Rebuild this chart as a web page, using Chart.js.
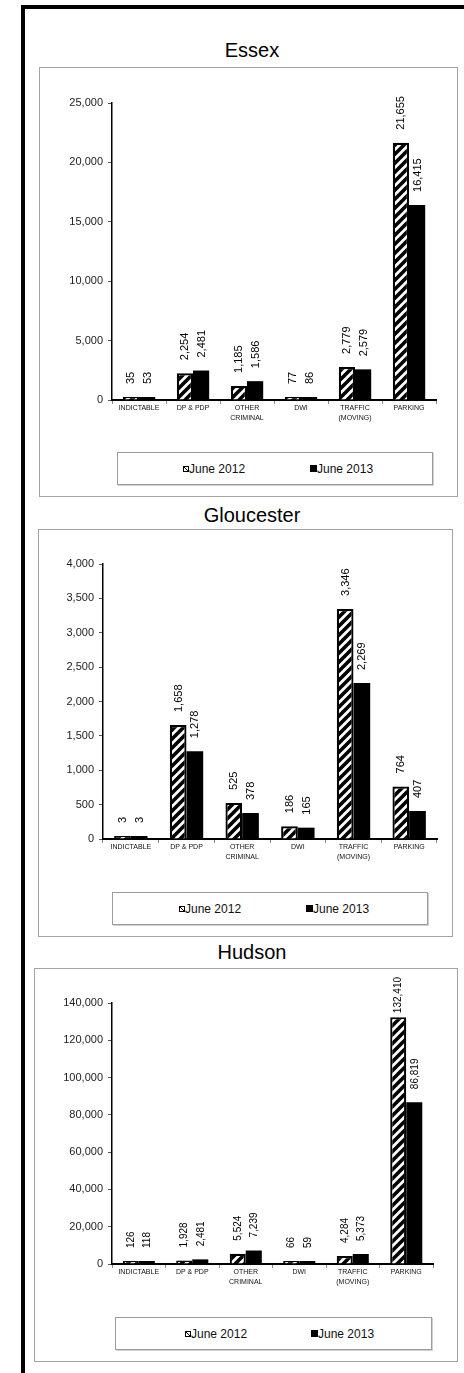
<!DOCTYPE html>
<html>
<head>
<meta charset="utf-8">
<script src="https://cdn.jsdelivr.net/npm/chart.js@4.4.1/dist/chart.umd.min.js"></script>
<style>
  html, body { margin: 0; padding: 0; background: #fff; }
  body { width: 464px; height: 1373px; position: relative; overflow: hidden;
         font-family: "Liberation Sans", Arial, sans-serif; color: #000; }
  .rule { position: absolute; background: #000; }
  .title { position: absolute; left: 152px; width: 200px; text-align: center;
           font-size: 20px; line-height: 20px; }
  .panel { position: absolute; border: 1px solid #a3a3a3; box-sizing: border-box; }
  .panel canvas { position: absolute; }
  .legend { position: absolute; border: 1px solid #9c9c9c; box-shadow: 1px 1px 0 #d0d0d0;
            box-sizing: border-box; background: #fff; }
  .legend .item { position: absolute; top: 0; height: 100%; display: flex; align-items: center;
                  font-size: 12px; line-height: 12px; color: #111; }
  .sw { width: 6px; height: 6px; box-sizing: border-box; }
  .sw.hatch { border: 1.5px solid #000;
              background: linear-gradient(45deg, #fff 40%, #000 40%, #000 60%, #fff 60%); }
  .sw.solid { background: #000; width: 7px; height: 7px; }
</style>
</head>
<body>
<div class="rule" style="left:22px; top:5px; width:442px; height:4px;"></div>
<div class="rule" style="left:21px; top:5px; width:4px; height:1368px;"></div>
<div id="root"></div>
<script>
(() => {
  const CATEGORIES = [["INDICTABLE"], ["DP & PDP"], ["OTHER", "CRIMINAL"], ["DWI"],
                      ["TRAFFIC", "(MOVING)"], ["PARKING"]];
  const SERIES = ["June 2012", "June 2013"];

  const ESSEX_2012 = [35, 2254, 1185, 77, 2779, 21655];
  const ESSEX_2013 = [53, 2481, 1586, 86, 2579, 16415];
  const GLOUCESTER_2012 = [3, 1658, 525, 186, 3346, 764];
  const GLOUCESTER_2013 = [3, 1278, 378, 165, 2269, 407];
  const HUDSON_2012 = [126, 1928, 5524, 66, 4284, 132410];
  const HUDSON_2013 = [118, 2481, 7239, 59, 5373, 86819];

  const ESSEX_Y = { max: 25000, step: 5000 };
  const GLOUCESTER_Y = { max: 4000, step: 500 };
  const HUDSON_Y = { max: 140000, step: 20000 };

  // Page layout for each county block (pixels in the 464-wide page).
  const BLOCKS = [
    { name: "Essex", a: ESSEX_2012, b: ESSEX_2013, y: ESSEX_Y, titleTop: 40,
      panel: { l: 39, t: 67, r: 458, b: 497 }, area: { l: 112, t: 103, r: 436, b: 400 },
      legend: { l: 117, t: 452, r: 433, b: 485, x1: 65, x2: 192 }, labelSize: 11, minTop: 4 },
    { name: "Gloucester", a: GLOUCESTER_2012, b: GLOUCESTER_2013, y: GLOUCESTER_Y, titleTop: 505,
      panel: { l: 38, t: 529, r: 453, b: 937 }, area: { l: 103, t: 564, r: 437, b: 839 },
      legend: { l: 112, t: 892, r: 428, b: 925, x1: 66, x2: 193 }, labelSize: 11, minTop: 4 },
    { name: "Hudson", a: HUDSON_2012, b: HUDSON_2013, y: HUDSON_Y, titleTop: 942,
      panel: { l: 34, t: 968, r: 458, b: 1362 }, area: { l: 112, t: 1003, r: 433, b: 1264 },
      legend: { l: 115, t: 1317, r: 432, b: 1350, x1: 69, x2: 195 }, labelSize: 10, minTop: 8 },
  ];

  const FONT = "'Liberation Sans', Arial, sans-serif";
  const fmt = (v) => Number(v).toLocaleString("en-US");

  // White tile with heavy "/" stripes, like the Excel wide-upward-diagonal fill.
  function hatchPattern() {
    const n = 9;
    const c = document.createElement("canvas");
    c.width = n; c.height = n;
    const g = c.getContext("2d");
    g.fillStyle = "#fff"; g.fillRect(0, 0, n, n);
    g.strokeStyle = "#000"; g.lineWidth = 3.6; g.lineCap = "square";
    g.beginPath();
    g.moveTo(0, n); g.lineTo(n, 0);
    g.moveTo(-3, 3); g.lineTo(3, -3);
    g.moveTo(n - 3, n + 3); g.lineTo(n + 3, n - 3);
    g.stroke();
    return g.createPattern(c, "repeat");
  }

  // Rotated value labels above each bar; clamped so they stay inside the panel.
  const valueLabels = {
    id: "valueLabels",
    afterDatasetsDraw(c, args, opts) {
      const ctx = c.ctx;
      ctx.save();
      ctx.font = `${opts.size}px ${FONT}`;
      ctx.fillStyle = "#000";
      ctx.textAlign = "left";
      ctx.textBaseline = "middle";
      c.data.datasets.forEach((ds, di) => {
        c.getDatasetMeta(di).data.forEach((bar, i) => {
          const txt = fmt(ds.data[i]);
          const w = ctx.measureText(txt).width;
          const start = Math.max(bar.y - 13, opts.minTop + w);
          ctx.save();
          ctx.translate(bar.x + 0.5, start);
          ctx.rotate(-Math.PI / 2);
          ctx.fillText(txt, 0, 0);
          ctx.restore();
        });
      });
      ctx.restore();
    },
  };

  const root = document.getElementById("root");
  const pattern = hatchPattern();

  BLOCKS.forEach((blk) => {
    const title = document.createElement("div");
    title.className = "title";
    title.style.top = blk.titleTop + "px";
    title.textContent = blk.name;
    root.appendChild(title);

    const p = blk.panel;
    const panel = document.createElement("div");
    panel.className = "panel";
    Object.assign(panel.style, { left: p.l + "px", top: p.t + "px",
      width: (p.r - p.l) + "px", height: (p.b - p.t) + "px" });
    root.appendChild(panel);

    // canvas covers panel interior from top down to the legend box
    const cl = p.l + 1, ct = p.t + 1, cw = p.r - p.l - 2, ch = blk.legend.t - 2 - ct;
    const canvas = document.createElement("canvas");
    canvas.width = cw; canvas.height = ch;
    Object.assign(canvas.style, { left: "0px", top: "0px", width: cw + "px", height: ch + "px" });
    panel.appendChild(canvas);

    const a = blk.area;
    const xAxisH = 30;
    new Chart(canvas, {
      type: "bar",
      data: {
        labels: CATEGORIES,
        datasets: [
          { label: SERIES[0], data: blk.a, backgroundColor: pattern, borderColor: "#000",
            borderWidth: 2.2, borderSkipped: "bottom", minBarLength: 3 },
          { label: SERIES[1], data: blk.b, backgroundColor: "#000", borderColor: "#000",
            borderWidth: 0, minBarLength: 3 },
        ],
      },
      options: {
        responsive: false, animation: false,
        categoryPercentage: 0.6, barPercentage: 1.0,
        layout: { padding: { left: 0, top: a.t - ct, right: (cl + cw) - a.r,
                             bottom: (ct + ch) - a.b - xAxisH } },
        plugins: {
          legend: { display: false }, tooltip: { enabled: false },
          valueLabels: { size: blk.labelSize, minTop: blk.minTop },
        },
        scales: {
          x: {
            afterFit: (s) => { s.height = xAxisH; },
            grid: { display: true, drawOnChartArea: false, drawTicks: true, tickLength: 4,
                    color: "#8c8c8c", offset: true },
            border: { display: true, color: "#000", width: 2 },
            ticks: { color: "#111", font: { family: FONT, size: 7, lineHeight: 1.3 },
                     padding: 0, autoSkip: false, maxRotation: 0, minRotation: 0 },
          },
          y: {
            min: 0, max: blk.y.max,
            afterFit: (s) => { s.width = a.l - cl; },
            grid: { display: true, drawOnChartArea: false, drawTicks: true, tickLength: 4,
                    color: "#555" },
            border: { display: true, color: "#000", width: 1.5 },
            ticks: { stepSize: blk.y.step, color: "#222", padding: 5,
                     font: { family: FONT, size: 11 }, callback: (v) => fmt(v) },
          },
        },
      },
      plugins: [valueLabels],
    });

    const L = blk.legend;
    const leg = document.createElement("div");
    leg.className = "legend";
    Object.assign(leg.style, { left: L.l + "px", top: L.t + "px",
      width: (L.r - L.l) + "px", height: (L.b - L.t) + "px" });
    leg.innerHTML = SERIES.map((s, i) =>
      `<span class="item" style="left:${i ? L.x2 : L.x1}px">` +
      `<span class="sw ${i ? "solid" : "hatch"}"></span>${s}</span>`).join("");
    root.appendChild(leg);
  });
})();
</script>
</body>
</html>
